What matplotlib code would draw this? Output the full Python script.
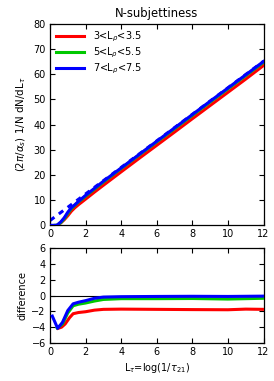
import matplotlib
matplotlib.use("Agg")
import matplotlib.pyplot as plt

plt.rcParams['font.family'] = ['DejaVu Sans']
plt.rcParams['mathtext.fontset'] = 'dejavusans'

# ---- data ----
ref_x = [0.0, 12.0]
ref_y = [1.9, 65.2]

top_blue_x = [0.1, 0.3, 0.4, 0.6, 0.8, 1.0, 1.2, 1.4, 1.6, 1.8, 2.0, 2.5, 3, 4, 5, 6, 7, 8, 9, 10, 11, 12]
top_blue_y = [0, 0, 0.1, 1.3, 3.0, 5.2, 7.0, 8.2, 9.5, 10.7, 11.9, 14.7, 17.5, 22.8, 28.1, 33.4, 38.7, 44.0, 49.3, 54.55, 59.8, 65.1]

top_green_x = [0.3, 0.4, 0.6, 0.8, 1.0, 1.2, 1.4, 1.6, 1.8, 2.0, 2.5, 3, 4, 5, 6, 7, 8, 9, 10, 11, 12]
top_green_y = [0, 0.0, 1.0, 2.6, 4.7, 6.6, 8.0, 9.3, 10.4, 11.6, 14.4, 17.2, 22.6, 27.9, 33.15, 38.4, 43.7, 49.0, 54.25, 59.5, 64.8]

top_red_x = [0.4, 0.6, 0.8, 1.0, 1.2, 1.4, 1.6, 1.8, 2.0, 2.5, 3, 4, 5, 6, 7, 8, 9, 10, 11, 12]
top_red_y = [0, 0.9, 2.2, 3.8, 5.6, 7.0, 8.2, 9.3, 10.4, 13.2, 15.9, 21.25, 26.55, 31.8, 37.05, 42.35, 47.6, 52.85, 58.1, 63.5]

diff_blue_x = [0.13, 0.43, 0.7, 1.0, 1.3, 1.6, 2.0, 2.5, 3, 4, 6, 8, 10, 12]
diff_blue_y = [-2.6, -4.15, -3.4, -1.9, -1.05, -0.85, -0.65, -0.35, -0.2, -0.15, -0.12, -0.1, -0.12, -0.08]

diff_green_x = [0.4, 0.7, 1.0, 1.3, 1.6, 2.0, 2.5, 3, 4, 6, 8, 10, 12]
diff_green_y = [-4.1, -3.6, -2.2, -1.3, -1.1, -0.95, -0.7, -0.5, -0.4, -0.4, -0.38, -0.45, -0.35]

diff_red_x = [0.45, 0.65, 0.85, 1.1, 1.3, 1.6, 2.0, 2.5, 3, 4, 6, 8, 10, 11, 12]
diff_red_y = [-4.15, -4.0, -3.6, -2.8, -2.3, -2.15, -2.05, -1.85, -1.75, -1.72, -1.75, -1.78, -1.8, -1.72, -1.75]

labels = [r'3<L$_\rho$<3.5', r'5<L$_\rho$<5.5', r'7<L$_\rho$<7.5']
colors = ['#ff0000', '#00c800', '#0000ff']

xticks = [0, 2, 4, 6, 8, 10, 12]
top_yticks = [0, 10, 20, 30, 40, 50, 60, 70, 80]
bot_yticks = [-6, -4, -2, 0, 2, 4, 6]

# ---- figure ----
W, H = 274, 381
fig = plt.figure(figsize=(W / 100, H / 100), dpi=100)
ax1 = fig.add_axes([50 / W, (H - 225.3) / H, 213.5 / W, 201.3 / H])
ax2 = fig.add_axes([50 / W, (H - 343) / H, 213.5 / W, 95 / H])

lw = 2.2
ax1.plot(ref_x, ref_y, color=colors[2], lw=lw, ls=(0, (1.8, 1.8)), zorder=2)
ax1.plot(top_red_x, top_red_y, color=colors[0], lw=lw, label=labels[0], zorder=3)
ax1.plot(top_green_x, top_green_y, color=colors[1], lw=lw, label=labels[1], zorder=4)
ax1.plot(top_blue_x, top_blue_y, color=colors[2], lw=lw, label=labels[2], zorder=5)

ax2.axhline(0, color='black', lw=0.8, zorder=1)
ax2.plot(diff_red_x, diff_red_y, color=colors[0], lw=lw, zorder=3)
ax2.plot(diff_green_x, diff_green_y, color=colors[1], lw=lw, zorder=4)
ax2.plot(diff_blue_x, diff_blue_y, color=colors[2], lw=lw, zorder=5)

for ax, yt in ((ax1, top_yticks), (ax2, bot_yticks)):
    ax.set_xlim(0, 12)
    ax.set_xticks(xticks)
    ax.set_yticks(yt)
    ax.set_ylim(yt[0], yt[-1])
    ax.tick_params(direction='in', top=True, right=True, length=3.5, width=0.8,
                   labelsize=7, pad=3)
    for s in ax.spines.values():
        s.set_linewidth(0.9)

ax1.set_title('N-subjettiness', fontsize=8.4, pad=5)
ax1.set_ylabel(r'(2$\pi$/$\alpha_s$) 1/N dN/dL$_\tau$', fontsize=7.4, labelpad=4)
ax2.set_ylabel('difference', fontsize=7, labelpad=3)
ax2.set_xlabel(r'L$_\tau$=log(1/$\tau_{21}$)', fontsize=7, labelpad=3)

ax1.legend(loc='upper left', frameon=False, fontsize=7, handlelength=2.9,
           handletextpad=0.9, labelspacing=0.15, borderaxespad=0.3,
           borderpad=0.3)

fig.savefig('out.png', dpi=100)
